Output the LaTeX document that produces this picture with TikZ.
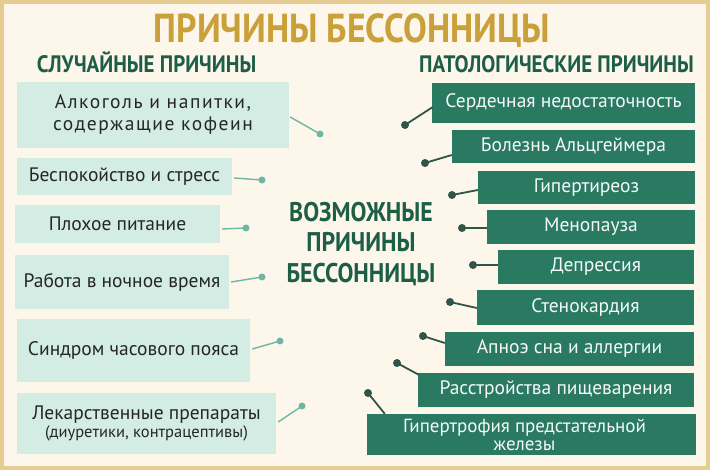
\documentclass[tikz,border=0pt]{standalone}
\usepackage{fontspec}
\setmainfont{PT Sans}
\newfontfamily\headfont[FakeStretch=0.88]{PT Sans}
\usepackage{xcolor}
\usetikzlibrary{positioning,calc}

\definecolor{paper}{HTML}{FDF6EB}
\definecolor{frame}{HTML}{E6CB93}
\definecolor{gold}{HTML}{C9A03A}
\definecolor{darkgreen}{HTML}{1D5E46}
\definecolor{mint}{HTML}{D3ECE4}
\definecolor{mintdot}{HTML}{6DB7A3}
\definecolor{teal}{HTML}{2A7A61}
\definecolor{darkdot}{HTML}{2E5548}

\tikzset{
  lbox/.style={fill=mint, inner sep=0pt, align=center, text=black!85,
    font=\fontsize{19.5}{22}\selectfont},
  rbox/.style={fill=teal, inner sep=0pt, align=center, text=white!95!teal,
    font=\fontsize{19.5}{22}\selectfont},
  ldot/.style={circle, fill=mintdot, inner sep=0pt, minimum size=7pt},
  rdot/.style={circle, fill=darkdot, inner sep=0pt, minimum size=8pt},
  lline/.style={draw=mintdot, line width=1.4pt},
  rline/.style={draw=darkdot, line width=1.8pt},
  heading/.style={text=darkgreen, font=\headfont\bfseries\fontsize{23.8}{26}\selectfont, anchor=base}
}

\begin{document}
\begin{tikzpicture}[x=1pt,y=-1pt]
  \fill[frame] (0,0) rectangle (710,470);
  \fill[paper] (4,4) rectangle (706,466);
  \useasboundingbox (0,0) rectangle (710,470);

  \node[text=gold, font=\headfont\bfseries\fontsize{40.5}{44}\selectfont, anchor=base] (title) at (352,43) {ПРИЧИНЫ БЕССОННИЦЫ};
  \node[heading] (lhead) at (146.5,73) {СЛУЧАЙНЫЕ ПРИЧИНЫ};
  \node[heading] (rhead) at (556.5,73) {ПАТОЛОГИЧЕСКИЕ ПРИЧИНЫ};
  \node[text=darkgreen, align=center, font=\headfont\bfseries\fontsize{27}{30.5}\selectfont] (centre) at (361,244) {ВОЗМОЖНЫЕ\\ПРИЧИНЫ\\БЕССОННИЦЫ};

  % random causes
  \node[lbox, minimum width=272pt, minimum height=66pt] (l1) at (153,115) {\addfontfeature{LetterSpace=8}Алкоголь и напитки,\\\addfontfeature{LetterSpace=8}содержащие кофеин};
  \node[lbox, minimum width=215pt, minimum height=37pt] (l2) at (124.5,176.5) {Беспокойство и стресс};
  \node[lbox, minimum width=205pt, minimum height=38pt] (l3) at (117.5,224) {Плохое питание};
  \node[lbox, minimum width=214pt, minimum height=54pt] (l4) at (122,282) {Работа в ночное время};
  \node[lbox, minimum width=233pt, minimum height=63pt] (l5) at (133.5,350.5) {Синдром часового пояса};
  \node[lbox, minimum width=259pt, minimum height=61pt] (l6) at (146.5,423.5) {Лекарственные препараты\\[-4pt]{\fontsize{16.5}{18}\selectfont(диуретики, контрацептивы)}};

  \node[ldot] (a1) at (320,134) {};
  \node[ldot] (a2) at (262,180) {};
  \node[ldot] (a3) at (246,228) {};
  \node[ldot] (a4) at (262,277) {};
  \node[ldot] (a5) at (280,341) {};
  \node[ldot] (a6) at (302,406) {};
  \draw[lline] ($(l1.east)+(1,2)$) -- (a1.center);
  \draw[lline] ($(l2.east)+(2,1.5)$) -- (a2.center);
  \draw[lline] ($(l3.east)+(2,5)$) -- (a3.center);
  \draw[lline] ($(l4.east)+(2,0)$) -- (a4.center);
  \draw[lline] ($(l5.east)+(2,-1.5)$) -- (a5.center);
  \draw[lline] ($(l6.east)+(2,-1.5)$) -- (a6.center);

  % pathological causes
  \node[rbox, minimum width=263pt, minimum height=40pt] (r1) at (563.5,103) {Сердечная недостаточность};
  \node[rbox, minimum width=243pt, minimum height=33pt] (r2) at (573.5,146.5) {Болезнь Альцгеймера};
  \node[rbox, minimum width=217pt, minimum height=33pt] (r3) at (586.5,187.5) {Гипертиреоз};
  \node[rbox, minimum width=208pt, minimum height=34pt] (r4) at (591,227) {Менопауза};
  \node[rbox, minimum width=196pt, minimum height=34pt] (r5) at (596,267) {Депрессия};
  \node[rbox, minimum width=217pt, minimum height=35pt] (r6) at (585.5,307.5) {Стенокардия};
  \node[rbox, minimum width=249pt, minimum height=34pt] (r7) at (569.5,349) {Апноэ сна и аллергии};
  \node[rbox, minimum width=276pt, minimum height=34pt] (r8) at (556,390) {Расстройства пищеварения};
  \node[rbox, minimum width=329pt, minimum height=41pt, font=\fontsize{19}{18}\selectfont] (r9) at (531.5,434.5) {\hspace*{-14pt}Гипертрофия предстательной\\\hspace*{-14pt}железы};

  \node[rdot] (b1) at (405,125) {};
  \node[rdot] (b2) at (425,163) {};
  \node[rdot] (b3) at (452,195) {};
  \node[rdot] (b4) at (462,228) {};
  \node[rdot] (b5) at (473,265) {};
  \node[rdot] (b6) at (450,302) {};
  \node[rdot] (b7) at (423,336) {};
  \node[rdot] (b8) at (397,363) {};
  \node[rdot] (b9) at (368,393) {};
  \draw[rline] ($(r1.west)+(1,4)$) -- (b1.center);
  \draw[rline] ($(r2.west)+(0,8.5)$) -- (b2.center);
  \draw[rline] ($(r3.west)+(0,2.5)$) -- (b3.center);
  \draw[rline] ($(r4.west)+(0,1)$) -- (b4.center);
  \draw[rline] ($(r5.west)+(0,-2)$) -- (b5.center);
  \draw[rline] ($(r6.west)+(0,0.5)$) -- (b6.center);
  \draw[rline] ($(r7.west)+(0,-6)$) -- (b7.center);
  \draw[rline] ($(r8.north west)+(1,2)$) -- (b8.center);
  \draw[rline] ($(r9.north west)+(18,0)$) -- (b9.center);
\end{tikzpicture}
\end{document}
